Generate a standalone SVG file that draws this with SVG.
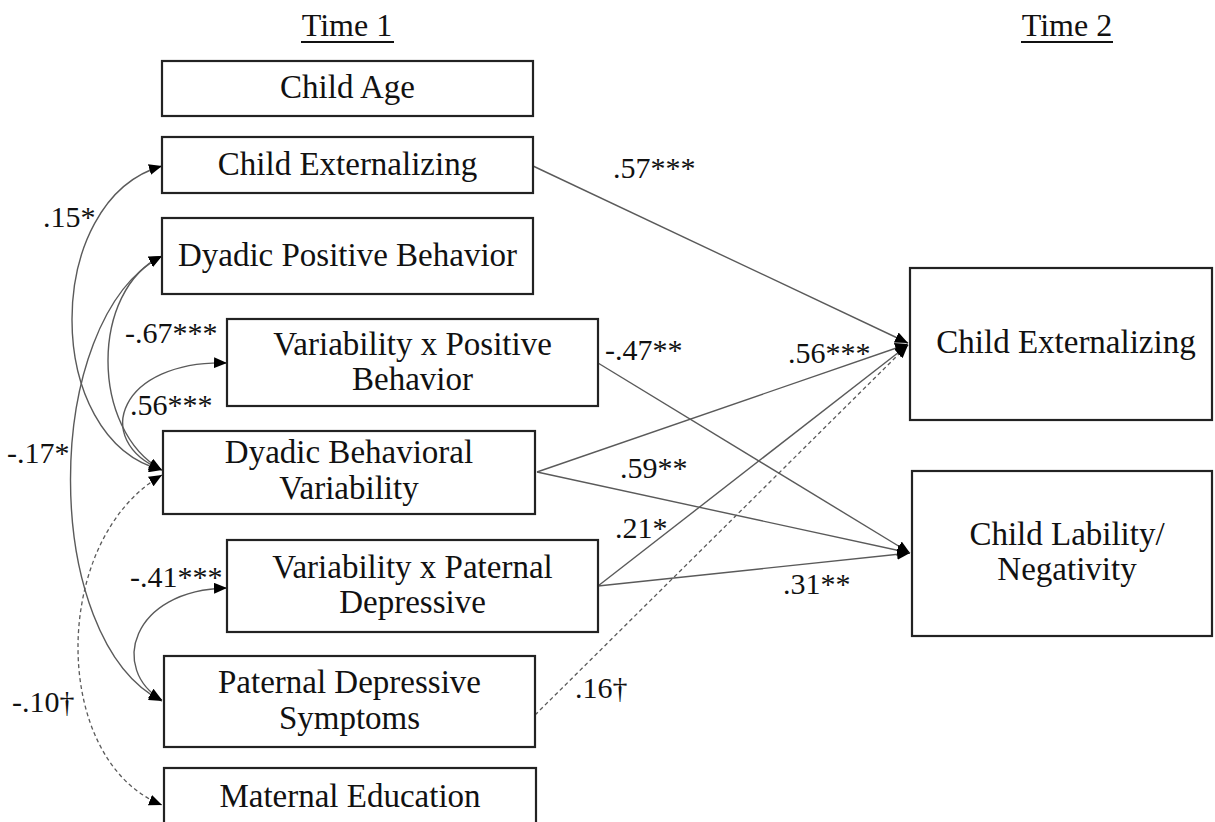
<svg xmlns="http://www.w3.org/2000/svg" width="1215" height="822" viewBox="0 0 1215 822">
<style>
.box{fill:#fff;stroke:#222;stroke-width:2.2}
.t{font-family:"Liberation Serif","Times New Roman",serif;font-size:33px;fill:#111;text-anchor:middle}
.hd{font-family:"Liberation Serif","Times New Roman",serif;font-size:32px;fill:#111;text-anchor:middle}
.lb{font-family:"Liberation Serif","Times New Roman",serif;font-size:30px;fill:#111}
.c{fill:none;stroke:#5a5a5a;stroke-width:1.4}
.d{fill:none;stroke:#5a5a5a;stroke-width:1.3;stroke-dasharray:4 3}
</style>
<defs>
<marker id="ah" viewBox="0 0 13 11" refX="13" refY="5.5" markerWidth="13" markerHeight="11" markerUnits="userSpaceOnUse" orient="auto-start-reverse">
<path d="M0,0 L13,5.5 L0,11 z" fill="#000"/>
</marker>
</defs>
<rect width="1215" height="822" fill="#fff"/>

<g id="headers">
<text class="hd" x="347" y="36">Time 1</text>
<line x1="301" y1="42" x2="394" y2="42" stroke="#111" stroke-width="2"/>
<text class="hd" x="1067" y="36">Time 2</text>
<line x1="1021" y1="42" x2="1113" y2="42" stroke="#111" stroke-width="2"/>
</g>

<g id="connectors">
<path class="c" d="M533,166 L908,343" marker-end="url(#ah)"/>
<path class="c" d="M537,472 L908,344" marker-end="url(#ah)"/>
<path class="c" d="M598,586 L908,345" marker-end="url(#ah)"/>
<path class="d" d="M535,715 L908,345" marker-end="url(#ah)"/>
<path class="c" d="M598,363 L910,553" marker-end="url(#ah)"/>
<path class="c" d="M537,472 L910,553" marker-end="url(#ah)"/>
<path class="c" d="M598,586 L910,553" marker-end="url(#ah)"/>
<path class="c" d="M162,166 C42,200 42,440 162,470" marker-start="url(#ah)" marker-end="url(#ah)"/>
<path class="c" d="M162,256 C90,290 90,430 162,470" marker-start="url(#ah)" marker-end="url(#ah)"/>
<path class="c" d="M227,363 C120,360 90,440 162,470" marker-start="url(#ah)" marker-end="url(#ah)"/>
<path class="c" d="M162,256 C40,320 40,640 162,701" marker-start="url(#ah)" marker-end="url(#ah)"/>
<path class="c" d="M227,588 C130,590 110,670 162,700" marker-start="url(#ah)" marker-end="url(#ah)"/>
<path class="d" d="M162,475 C50,540 50,760 162,805" marker-start="url(#ah)" marker-end="url(#ah)"/>
</g>

<g id="labels">
<text class="lb" x="613" y="178">.57***</text>
<text class="lb" x="605" y="360">-.47**</text>
<text class="lb" x="788" y="363">.56***</text>
<text class="lb" x="620" y="478">.59**</text>
<text class="lb" x="615" y="538">.21*</text>
<text class="lb" x="783" y="594">.31**</text>
<text class="lb" x="575" y="698">.16†</text>
<text class="lb" x="43" y="227">.15*</text>
<text class="lb" x="125" y="343">-.67***</text>
<text class="lb" x="130" y="415">.56***</text>
<text class="lb" x="7" y="463">-.17*</text>
<text class="lb" x="130" y="587">-.41***</text>
<text class="lb" x="12" y="712">-.10†</text>
</g>

<g id="n-child-age">
<rect class="box" x="162" y="61" width="371" height="55"/>
<text class="t" x="347.5" y="98">Child Age</text>
</g>
<g id="n-child-ext-t1">
<rect class="box" x="162" y="137" width="371" height="56"/>
<text class="t" x="347.5" y="175">Child Externalizing</text>
</g>
<g id="n-dyadic-pos">
<rect class="box" x="162" y="218" width="371" height="76"/>
<text class="t" x="347.5" y="266">Dyadic Positive Behavior</text>
</g>
<g id="n-var-pos">
<rect class="box" x="227" y="319" width="371" height="87"/>
<text class="t" x="412.5" y="355">Variability x Positive</text>
<text class="t" x="412.5" y="390">Behavior</text>
</g>
<g id="n-dbv">
<rect class="box" x="163" y="431" width="372" height="83"/>
<text class="t" x="349" y="463">Dyadic Behavioral</text>
<text class="t" x="349" y="499">Variability</text>
</g>
<g id="n-var-pat">
<rect class="box" x="227" y="540" width="371" height="92"/>
<text class="t" x="412.5" y="578">Variability x Paternal</text>
<text class="t" x="412.5" y="613">Depressive</text>
</g>
<g id="n-pat-dep">
<rect class="box" x="164" y="656" width="371" height="91"/>
<text class="t" x="349.5" y="693">Paternal Depressive</text>
<text class="t" x="349.5" y="729">Symptoms</text>
</g>
<g id="n-mat-ed">
<rect class="box" x="164" y="768" width="372" height="70"/>
<text class="t" x="350" y="807">Maternal Education</text>
</g>
<g id="n-child-ext-t2">
<rect class="box" x="910" y="268" width="302" height="152"/>
<text class="t" x="1066" y="353">Child Externalizing</text>
</g>
<g id="n-lability">
<rect class="box" x="912" y="471" width="300" height="165"/>
<text class="t" x="1067" y="545">Child Lability/</text>
<text class="t" x="1067" y="580">Negativity</text>
</g>
</svg>
